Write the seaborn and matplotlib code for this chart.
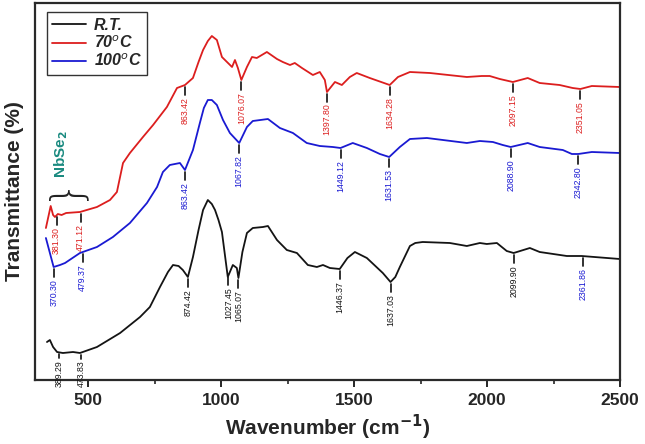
import numpy as np
import pandas as pd
import seaborn as sns
import matplotlib.pyplot as plt

# FTIR spectra (wavenumber in cm-1, transmittance in a.u.)
rt_wn = [345, 356, 368, 383, 405, 443, 469, 533, 620, 695, 732, 770, 800, 819, 840, 856, 875,
         894, 915, 932, 950, 965, 977, 990, 1003, 1025, 1044, 1059, 1065, 1080, 1097, 1119, 1157, 1176,
         1210, 1247, 1285, 1326, 1360, 1383, 1409, 1446, 1475, 1503, 1548, 1608, 1637,
         1655, 1672, 1710, 1730, 1758, 1860, 1924, 1973, 1999, 2037, 2074, 2100, 2161, 2198,
         2300, 2356, 2499]
rt_t = [38, 40, 33, 28, 27, 28, 27, 33, 47, 63, 73, 93, 108, 115, 114, 110, 103,
        123, 150, 170, 180, 176, 170, 160, 148, 103, 115, 112, 102, 128, 147, 152, 153, 154,
        140, 130, 127, 115, 113, 115, 112, 111, 122, 128, 122, 107, 98,
        103, 113, 134, 137, 138, 137, 134, 137, 136, 137, 129, 127, 132, 128,
        124, 124, 121]

t70_wn = [341, 359, 368, 375, 386, 400, 417, 469, 533, 582, 608, 631, 657, 706, 744,
          796, 834, 864, 894, 915, 932, 950, 965, 984, 1003, 1022, 1041, 1052, 1063, 1076,
          1097, 1116, 1134, 1172, 1210, 1232, 1259, 1277, 1304, 1345, 1371, 1390,
          1398, 1428, 1454, 1484, 1510, 1559, 1634, 1665, 1710, 1785, 1924, 1980,
          2010, 2048, 2097, 2153, 2198, 2273, 2322, 2351, 2394, 2499]
t70_t = [152, 174, 165, 163, 166, 165, 167, 168, 173, 180, 188, 217, 227, 243, 255,
         273, 292, 295, 302, 318, 330, 339, 344, 340, 323, 318, 313, 320, 312, 300,
         313, 323, 322, 328, 321, 318, 315, 317, 312, 305, 308, 300,
         288, 298, 295, 303, 307, 302, 295, 303, 308, 307, 303, 304,
         304, 301, 298, 302, 297, 295, 292, 291, 294, 293]

t100_wn = [341, 370, 394, 413, 469, 533, 593, 657, 721, 759, 781, 807, 845, 864, 894,
           920, 935, 950, 965, 984, 1007, 1033, 1068, 1097, 1119, 1176, 1221, 1270, 1322, 1371,
           1420, 1449, 1495, 1548, 1597, 1632, 1672, 1710, 1774, 1924, 1973, 2022,
           2059, 2089, 2153, 2198, 2285, 2319, 2343, 2394, 2499]
t100_t = [142, 113, 115, 117, 127, 133, 143, 157, 177, 193, 208, 215, 217, 210, 230,
          257, 272, 280, 280, 275, 260, 247, 237, 253, 259, 261, 252, 247, 237, 234,
          233, 232, 237, 232, 226, 223, 233, 241, 242, 237, 239, 238,
          235, 233, 237, 233, 230, 226, 226, 228, 227]

series = ["R.T.", "70$^o$C", "100$^o$C"]
colors = ["#141414", "#dc1e1e", "#1a1ad2"]

# peak labels: (wavenumber, text, label colour index, tick length)
rt_peaks = [(389.29, "389.29", 0, 4), (473.83, "473.83", 0, 4), (874.42, "874.42", 0, 8),
            (1027.45, "1027.45", 0, 8), (1065.07, "1065.07", 0, 8), (1446.37, "1446.37", 0, 8),
            (1637.03, "1637.03", 0, 8), (2099.90, "2099.90", 0, 8), (2361.86, "2361.86", 2, 8)]
t70_peaks = [(381.30, "381.30", 1, 8), (471.12, "471.12", 1, 8), (863.42, "863.42", 1, 8),
             (1076.07, "1076.07", 1, 8), (1397.80, "1397.80", 1, 8), (1634.28, "1634.28", 1, 8),
             (2097.15, "2097.15", 1, 8), (2351.05, "2351.05", 1, 8)]
t100_peaks = [(370.30, "370.30", 2, 8), (479.37, "479.37", 2, 8), (863.42, "863.42", 2, 8),
              (1067.82, "1067.82", 2, 8), (1449.12, "1449.12", 2, 8), (1631.53, "1631.53", 2, 8),
              (2088.90, "2088.90", 2, 8), (2342.80, "2342.80", 2, 8)]

sns.set_style("ticks")
plt.rcParams['font.family'] = ['Liberation Sans', 'DejaVu Sans']

df = pd.concat([
    pd.DataFrame({"wn": rt_wn, "T": rt_t, "sample": series[0]}),
    pd.DataFrame({"wn": t70_wn, "T": t70_t, "sample": series[1]}),
    pd.DataFrame({"wn": t100_wn, "T": t100_t, "sample": series[2]}),
])

fig = plt.figure(figsize=(6.45, 4.44), dpi=100)
ax = fig.add_axes([35 / 645, 64 / 444, 585 / 645, 377 / 444])

sns.lineplot(data=df, x="wn", y="T", hue="sample", hue_order=series,
             palette=dict(zip(series, colors)), estimator=None, sort=False,
             linewidth=1.3, ax=ax)

# peak ticks and labels
for wn, tt, peaks in [(rt_wn, rt_t, rt_peaks), (t70_wn, t70_t, t70_peaks),
                      (t100_wn, t100_t, t100_peaks)]:
    for p, lab, ci, tl in peaks:
        y = np.interp(p, wn, tt)
        ax.plot([p, p], [y - 2, y - 2 - tl], color="#222222", lw=1.3)
        ax.text(p, y - 4 - tl, lab, rotation=90, ha="center", va="top",
                fontsize=6.3, color=colors[ci])

# NbSe2 marker
ax.text(400, 202, "NbSe$_\\mathbf{2}$", rotation=90, ha="center", va="bottom",
        fontsize=11, color="#1a8a80", fontweight="bold")
ax.text(405, 193, "}", rotation=90, ha="center", va="center",
        fontsize=30, color="#222222", family=["DejaVu Sans"], fontweight="ultralight")

ax.set_xlim(300, 2500)
ax.set_ylim(0, 377)
ax.set_xticks([500, 1000, 1500, 2000, 2500])
ax.set_xticks([750, 1250, 1750, 2250], minor=True)
ax.set_yticks([])
ax.tick_params(axis="x", which="major", length=5, width=1.4, labelsize=12.5, pad=4)
ax.tick_params(axis="x", which="minor", length=3, width=1.2)
for lab in ax.get_xticklabels():
    lab.set_fontweight("bold")
for s in ax.spines.values():
    s.set_linewidth(1.6)
    s.set_color("#2a2a2a")

ax.set_xlabel("Wavenumber (cm$^{\\mathbf{-1}}$)", fontsize=15, fontweight="bold", labelpad=4)
ax.set_ylabel("Transmittance (%)", fontsize=15, fontweight="bold", labelpad=8)

leg = ax.legend(loc="upper left", bbox_to_anchor=(0.02, 0.975), borderaxespad=0,
                title=None, fancybox=False, handlelength=2.1, labelspacing=0.1,
                borderpad=0.35, handletextpad=0.5,
                prop={"weight": "bold", "style": "italic", "size": 11.5})
leg.get_frame().set_edgecolor("#333333")
leg.get_frame().set_linewidth(1.0)
leg.get_frame().set_alpha(1)

fig.savefig("out.png", dpi=100)
